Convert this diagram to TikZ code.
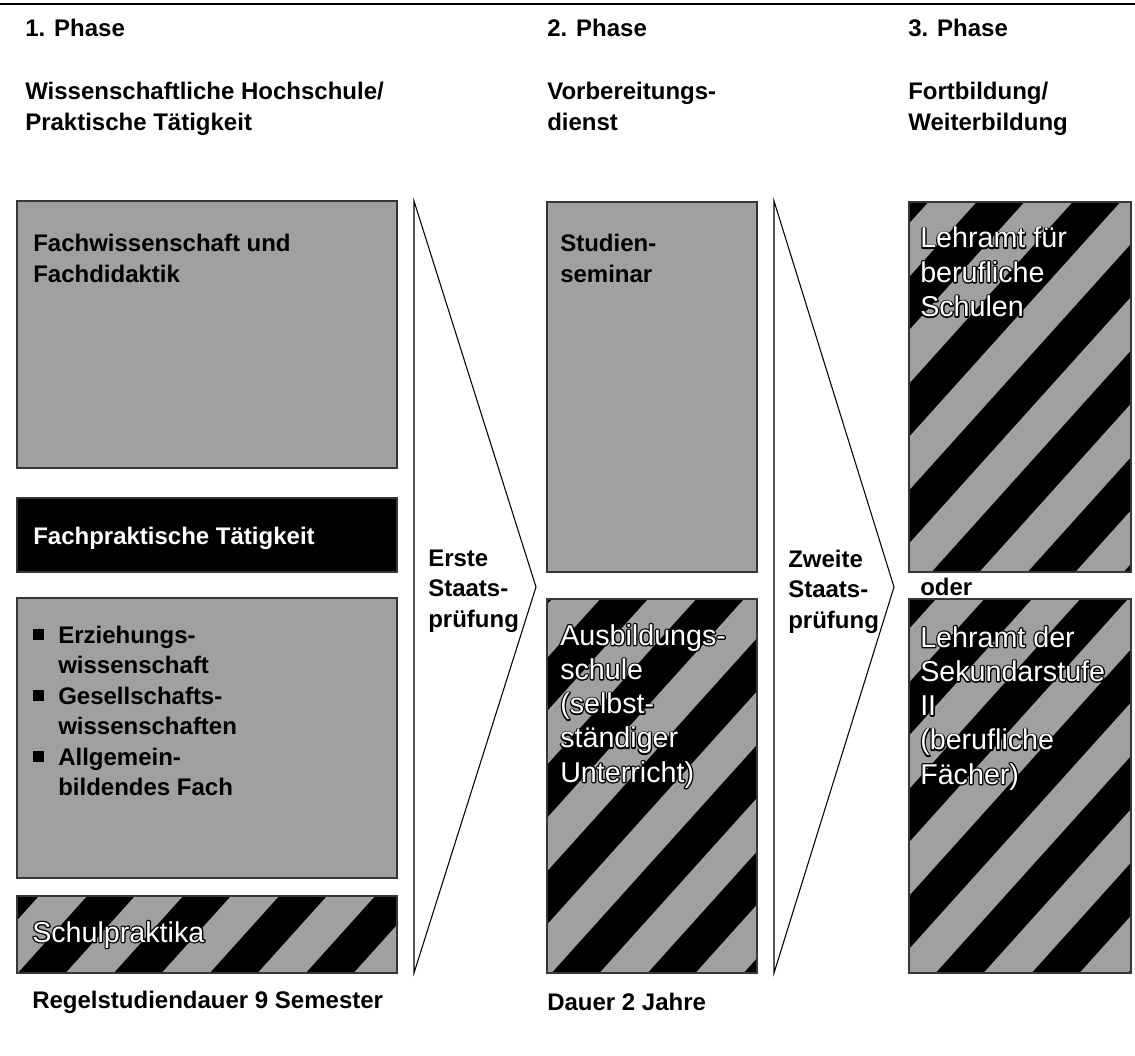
\documentclass[tikz,border=0pt]{standalone}
\usepackage{fontspec}
\setmainfont{Liberation Sans}
\usetikzlibrary{calc,fit}
\definecolor{boxgray}{RGB}{160,160,160}
\definecolor{rimgray}{RGB}{55,55,55}

% stroked-only glyphs for the black rim behind white lettering
\newcommand\rimon{\special{pdf:literal direct 1 Tr 1.9 w 1 j 0 0 0 RG}}
\newcommand\rimoff{\special{pdf:literal direct 0 Tr}}

% striped panel: name, x1, y1, x2, y2, stripe phase
\newcommand\stripedpanel[6]{%
  \begin{scope}
    \clip (#2,#3) rectangle (#4,#5);
    \fill[black] (#2,#3) rectangle (#4,#5);
    \foreach \k in {0,...,22}{%
      \pgfmathsetmacro\pa{#6+96*\k-24}%
      \pgfmathsetmacro\pb{#6+96*\k+24}%
      \fill[boxgray] (\pa-0.9*#3,#3) -- (\pb-0.9*#3,#3) -- (\pb-0.9*#5,#5) -- (\pa-0.9*#5,#5) -- cycle;
    }
  \end{scope}
  \node[panel, fit={(#2,#3) (#4,#5)}] (#1) {};
}

% white lettering with a black rim: name, x, baseline of last line, lines (rim part), lines (plain)
\newcommand\rimlabel[5]{%
  \node[rimtxt, text=black] (#1-rim) at (#2,#3) {#4};
  \node[rimtxt] (#1) at (#2,#3) {#5};
}

\begin{document}
\begin{tikzpicture}[x=0.75pt,y=-0.75pt,
  panel/.style={draw=rimgray, line width=0.8pt, inner sep=0pt},
  graypanel/.style={panel, fill=boxgray},
  blackpanel/.style={panel, fill=black},
  boldtxt/.style={font=\fontsize{18}{22.9}\selectfont\bfseries, inner sep=0pt, anchor=base west, align=left},
  rimtxt/.style={font=\fontsize{21.5}{25.7}\selectfont, text=white, inner sep=0pt, anchor=base west, align=left},
  chev/.style={draw=black, line width=0.8pt, line join=miter},
  bulletsq/.style={fill=black, inner sep=0pt, minimum size=8.25pt}]

\useasboundingbox (0,0) rectangle (1135,1056);

% top rule
\coordinate (ruleL) at (0,4);
\coordinate (ruleR) at (1135,4);
\draw[line width=1.5pt] (ruleL) -- (ruleR);

% column headings (multi-line nodes sit on the baseline of their last line)
\node[boldtxt] (ph1) at (25,37) {1. Phase};
\node[boldtxt] (ph1t) at (25,130.5) {Wissenschaftliche Hochschule/\\Praktische Tätigkeit};
\node[boldtxt] (ph2) at (547,37) {2. Phase};
\node[boldtxt] (ph2t) at (547,130.5) {Vorbereitungs-\\dienst};
\node[boldtxt] (ph3) at (908,37) {3. Phase};
\node[boldtxt] (ph3t) at (908,130.5) {Fortbildung/\\Weiterbildung};

% first phase
\node[graypanel, fit={(17,201) (397,468)}] (fach) {};
\node[boldtxt] (fachT) at (33,282.5) {Fachwissenschaft und\\Fachdidaktik};

\node[blackpanel, fit={(17,498) (397,572)}] (prax) {};
\node[boldtxt, text=white] (praxT) at (33,544) {Fachpraktische Tätigkeit};

\node[graypanel, fit={(17,598) (397,878)}] (erz) {};
\node[bulletsq] (b1) at (38.5,634.5) {};
\node[bulletsq] (b2) at (38.5,695.5) {};
\node[bulletsq] (b3) at (38.5,756.5) {};
\node[boldtxt] (erzT) at (58,795.7) {Erziehungs-\\wissenschaft\\Gesellschafts-\\wissenschaften\\Allgemein-\\bildendes Fach};

\stripedpanel{schul}{17}{896}{397}{973}{5.4}
\rimlabel{schulT}{32}{942}{\rimon Schulpraktika\rimoff}{Schulpraktika}

\node[boldtxt] (dauer1) at (32,1008) {Regelstudiendauer 9 Semester};

% first exam
\coordinate (e1t) at (414,201);
\coordinate (e1p) at (536,587);
\coordinate (e1b) at (414,973);
\draw[chev] (e1t) -- (e1p) -- (e1b) -- cycle;
\node[boldtxt] (e1T) at (428,627.1) {Erste\\Staats-\\prüfung};

% second phase
\node[graypanel, fit={(547,202) (757,572)}] (sem) {};
\node[boldtxt] (semT) at (560,282.5) {Studien-\\seminar};

\stripedpanel{ausb}{547}{599}{757}{973}{59.2}
\rimlabel{ausbT}{560}{782.1}
  {\rimon Ausbildungs-\\\rimon schule\\\rimon (selbst-\\\rimon ständiger\\\rimon Unterricht)\rimoff}
  {Ausbildungs-\\schule\\(selbst-\\ständiger\\Unterricht)}

\node[boldtxt] (dauer2) at (547,1010) {Dauer 2 Jahre};

% second exam
\coordinate (e2t) at (774,201);
\coordinate (e2p) at (894,587);
\coordinate (e2b) at (774,973);
\draw[chev] (e2t) -- (e2p) -- (e2b) -- cycle;
\node[boldtxt] (e2T) at (788,628.1) {Zweite\\Staats-\\prüfung};

% third phase
\stripedpanel{lbs}{909}{202}{1131}{572}{78.3}
\rimlabel{lbsT}{920}{316.5}
  {\rimon Lehramt für\\\rimon berufliche\\\rimon Schulen\rimoff}
  {Lehramt für\\berufliche\\Schulen}

\node[boldtxt] (oder) at (920,595) {oder};

\stripedpanel{lsek}{909}{599}{1131}{973}{59.2}
\rimlabel{lsekT}{920}{784.1}
  {\rimon Lehramt der\\\rimon Sekundarstufe\\\rimon II\\\rimon (berufliche\\\rimon Fächer)\rimoff}
  {Lehramt der\\Sekundarstufe\\II\\(berufliche\\Fächer)}

\end{tikzpicture}
\end{document}
